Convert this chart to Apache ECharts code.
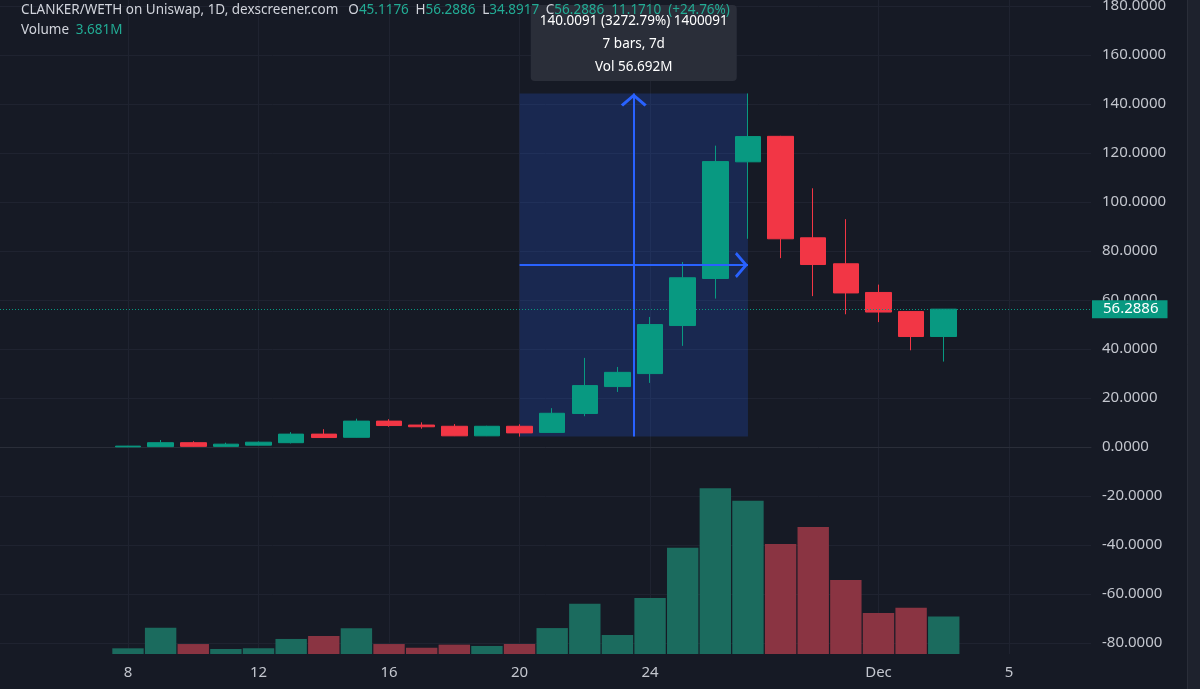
<!DOCTYPE html>
<html>
<head>
<meta charset="utf-8">
<script src="https://cdn.jsdelivr.net/npm/echarts@6/dist/echarts.min.js"></script>
<style>
html,body{margin:0;padding:0;background:#161a25;}
#c{width:1200px;height:689px;}
</style>
</head>
<body>
<div id="c"></div>
<script>
// ---------- data ----------
const dates = ['2024-11-08','2024-11-09','2024-11-10','2024-11-11','2024-11-12','2024-11-13','2024-11-14',
  '2024-11-15','2024-11-16','2024-11-17','2024-11-18','2024-11-19','2024-11-20','2024-11-21','2024-11-22',
  '2024-11-23','2024-11-24','2024-11-25','2024-11-26','2024-11-27','2024-11-28','2024-11-29','2024-11-30',
  '2024-12-01','2024-12-02','2024-12-03'];
const openP  = [0.10, 0.20, 1.80, 0.30, 0.80, 1.80, 5.30, 4.00, 10.60, 9.00, 8.50, 4.60, 8.50, 6.00, 13.70,
  24.70, 30.00, 49.60, 68.80, 116.40, 126.80, 85.40, 74.80, 63.10, 55.30, 45.1176];
const closeP = [0.40, 1.80, 0.30, 1.20, 2.00, 5.30, 3.90, 10.60, 8.80, 8.30, 4.60, 8.50, 5.80, 13.80, 25.10,
  30.50, 50.00, 69.10, 116.50, 126.70, 85.00, 74.50, 62.90, 55.10, 45.1176, 56.2886];
const lowP   = [0.00, 0.10, 0.20, 0.20, 0.70, 1.50, 3.80, 3.90, 8.30, 7.50, 4.50, 4.50, 4.27797, 5.80, 12.60,
  22.50, 26.20, 41.30, 60.60, 85.00, 77.10, 61.60, 54.20, 51.00, 39.50, 34.8917];
const highP  = [0.50, 2.90, 2.40, 1.80, 2.30, 6.10, 7.30, 11.60, 11.40, 10.10, 9.40, 8.70, 9.30, 15.90, 36.40,
  32.70, 53.10, 75.50, 123.00, 144.28707, 127.00, 105.60, 93.00, 66.30, 55.50, 56.2886];
const volumeM = [0.56, 2.59, 0.98, 0.49, 0.56, 1.48, 1.77, 2.53, 0.98, 0.62, 0.92, 0.79, 0.98, 2.55, 4.95,
  1.87, 5.50, 10.45, 16.30, 15.072, 10.82, 12.50, 7.28, 4.03, 4.56, 3.681];

const priceTicks = [-80, -60, -40, -20, 0, 20, 40, 60, 80, 100, 120, 140, 160, 180];
const timeTickDates  = ['2024-11-08','2024-11-12','2024-11-16','2024-11-20','2024-11-24','2024-12-01','2024-12-05'];
const timeTickLabels = ['8','12','16','20','24','Dec','5'];

// measure tool (from Nov 20 low to Nov 27 high)
const measureFrom = { date: '2024-11-20', price: 4.27797 };
const measureTo   = { date: '2024-11-27', price: 144.28707 };

const title = 'CLANKER/WETH on Uniswap, 1D, dexscreener.com';

// ---------- helpers ----------
const DAY = 86400000;
const t0 = Date.parse(dates[0]);
const dayIdx = d => Math.round((Date.parse(d) - t0) / DAY);
const xs = dates.map(dayIdx);
const tickIdx = timeTickDates.map(dayIdx);

const UP = '#089981', DOWN = '#f23645';
const UPV = '#1b6b5e', DOWNV = '#8a3442';
const TXT = '#c3c6ce';
const GRID = '#1f2330';
const BLUE = '#2962ff';
const FONT = 'Noto Sans';

const candleData = xs.map((x, i) => [x, openP[i], closeP[i], lowP[i], highP[i]]);
const volData = xs.map((x, i) => ({
  value: [x, volumeM[i]],
  itemStyle: { color: closeP[i] >= openP[i] ? UPV : DOWNV }
}));

const n = dates.length;
const last = n - 1;
const chg = closeP[last] - closeP[last - 1];
const chgPct = chg / closeP[last - 1] * 100;

const mx0 = dayIdx(measureFrom.date), mx1 = dayIdx(measureTo.date);
const mxm = (mx0 + mx1) / 2;
const mym = (measureFrom.price + measureTo.price) / 2;
const mDiff = measureTo.price - measureFrom.price;
const mPct = mDiff / measureFrom.price * 100;
const mBars = mx1 - mx0;
let mVol = 0;
for (let i = 0; i < n; i++) if (xs[i] > mx0 && xs[i] <= mx1) mVol += volumeM[i];

// open chevron arrow head (tip at symbol centre)
const chevron = 'path://M9,-10.5L9.01,-10.5ZM0,9L9,0L18,9L16.4,10.5L9,3.1L1.6,10.5Z';

const chart = echarts.init(document.getElementById('c'), null, { renderer: 'canvas' });

const option = {
  backgroundColor: '#161a25',
  animation: false,
  grid: [{ left: 0, right: 109, top: 0, bottom: 35, containLabel: false, outerBoundsMode: 'none' }],
  xAxis: [{
    type: 'value', gridIndex: 0,
    min: -3.9228, max: 29.513,
    axisLine: { show: true, lineStyle: { color: '#2a2e39', width: 1 } },
    axisTick: { show: false, customValues: tickIdx },
    axisLabel: {
      customValues: tickIdx, margin: 11, color: TXT, fontSize: 15, fontFamily: FONT,
      formatter: v => { const k = tickIdx.indexOf(Math.round(v)); return k >= 0 ? timeTickLabels[k] : ''; }
    },
    splitLine: { show: true, lineStyle: { color: GRID, width: 1 } }
  }],
  yAxis: [{
    type: 'value', position: 'right', gridIndex: 0,
    min: -84.42, max: 182.43,
    axisLine: { show: false },
    axisTick: { show: false, customValues: priceTicks },
    axisLabel: {
      customValues: priceTicks, margin: 11, color: TXT, fontSize: 15, fontFamily: FONT,
      formatter: v => v.toFixed(4)
    },
    splitLine: { show: true, lineStyle: { color: GRID, width: 1 } }
  }, {
    type: 'value', gridIndex: 0, min: 0, max: 64.33, show: false,
    splitLine: { show: false }
  }],
  series: [{
    type: 'bar', name: 'Volume', xAxisIndex: 0, yAxisIndex: 1,
    barWidth: 31.4, data: volData, silent: true, z: 1
  }, {
    type: 'candlestick', name: 'Price', xAxisIndex: 0, yAxisIndex: 0,
    encode: { x: 0, y: [1, 2, 3, 4] },
    barWidth: 26, data: candleData, silent: true, z: 3,
    itemStyle: { color: UP, color0: DOWN, borderColor: UP, borderColor0: DOWN, borderWidth: 1 },
    markArea: {
      silent: true,
      itemStyle: { color: 'rgba(41,98,255,0.2)' },
      data: [[{ coord: [mx0, measureFrom.price] }, { coord: [mx1, measureTo.price] }]]
    },
    markLine: {
      silent: true, animation: false,
      symbol: ['none', 'none'],
      data: [
        [{ coord: [mxm, measureFrom.price], symbol: 'none', lineStyle: { color: BLUE, width: 2, type: 'solid' }, label: { show: false } },
         { coord: [mxm, measureTo.price], symbol: chevron, symbolSize: [26, 26] }],
        [{ coord: [mx0, mym], symbol: 'none', lineStyle: { color: BLUE, width: 2, type: 'solid' }, label: { show: false } },
         { coord: [mx1, mym], symbol: chevron, symbolSize: [26, 26] }],
        { yAxis: closeP[last], symbol: 'none',
          lineStyle: { color: UP, width: 1, type: [1, 2] },
          label: { show: true, position: 'end', distance: 1, formatter: closeP[last].toFixed(4),
            backgroundColor: UP, color: '#ffffff', fontSize: 15, fontFamily: FONT,
            padding: [2, 9, 1, 11] } }
      ]
    }
  }]
};
chart.setOption(option);

const xmPx = chart.convertToPixel({ xAxisIndex: 0 }, mxm);

const rich = {
  t: { fill: '#d1d4dc', fontSize: 13.5, fontFamily: FONT },
  l: { fill: '#d1d4dc', fontSize: 13.5, fontFamily: FONT },
  v: { fill: '#22ab94', fontSize: 13.5, fontFamily: FONT }
};
const f4 = v => v.toFixed(4);
const line1 = '{t|' + title + '}   {l|O}{v|' + f4(openP[last]) + '}  {l|H}{v|' + f4(highP[last]) +
  '}  {l|L}{v|' + f4(lowP[last]) + '}  {l|C}{v|' + f4(closeP[last]) + '  ' + f4(chg) +
  '  (' + (chg >= 0 ? '+' : '') + chgPct.toFixed(2) + '%)}';
const line2 = '{t|Volume}  {v|' + volumeM[last].toFixed(3) + 'M}';

const boxText = (txt, y) => ({ type: 'text', x: 103, y: y, style: { text: txt,
  fill: '#ffffff', fontSize: 13.5, fontFamily: FONT, align: 'center', verticalAlign: 'middle' } });

chart.setOption({
  graphic: [
    { type: 'rect', right: 0, top: 0, z: 0, shape: { width: 13, height: 689 },
      style: { fill: '#1e222d' } },
    { type: 'line', z: 0, shape: { x1: 1187.5, y1: 0, x2: 1187.5, y2: 689 },
      style: { stroke: '#2a2e39', lineWidth: 1 } },
    { type: 'group', left: xmPx - 103, top: 5, z: 50, children: [
      { type: 'rect', shape: { x: 0, y: 0, width: 206, height: 76, r: 4 },
        style: { fill: '#2a2e39' } },
      boxText(f4(mDiff) + ' (' + mPct.toFixed(2) + '%) ' + Math.round(mDiff * 10000), 16),
      boxText(mBars + ' bars, ' + mBars + 'd', 39),
      boxText('Vol ' + mVol.toFixed(3) + 'M', 62)
    ]},
    { type: 'text', left: 21, top: 3, z: 100, style: { text: line1, rich: rich } },
    { type: 'text', left: 21, top: 23, z: 100, style: { text: line2, rich: rich } }
  ]
});
</script>
</body>
</html>
